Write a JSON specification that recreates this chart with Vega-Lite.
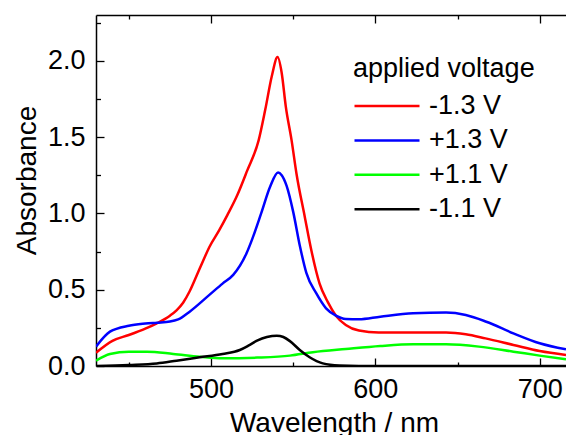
{
  "$schema": "https://vega.github.io/schema/vega-lite/v6.json",
  "width": 470,
  "height": 351,
  "autosize": {"type": "none"},
  "padding": {"left": 96, "top": 15, "right": 0, "bottom": 69},
  "config": {
    "view": {"stroke": null},
    "font": "Liberation Sans",
    "axis": {
      "grid": false,
      "domainColor": "black",
      "domainWidth": 1.5,
      "tickColor": "black",
      "tickWidth": 1.3,
      "labelFont": "Liberation Sans",
      "labelFontSize": 27,
      "labelColor": "black",
      "labelFlush": false,
      "labelOverlap": false,
      "titleFont": "Liberation Sans",
      "titleFontSize": 28,
      "titleFontWeight": "normal",
      "titleColor": "black"
    }
  },
  "data": {
    "values": [
      {"s": "-1.3 V", "w": 430, "a": 0.087},
      {"s": "-1.3 V", "w": 440, "a": 0.165},
      {"s": "-1.3 V", "w": 450, "a": 0.203},
      {"s": "-1.3 V", "w": 460, "a": 0.245},
      {"s": "-1.3 V", "w": 467, "a": 0.28},
      {"s": "-1.3 V", "w": 475, "a": 0.33},
      {"s": "-1.3 V", "w": 479, "a": 0.365},
      {"s": "-1.3 V", "w": 483, "a": 0.415},
      {"s": "-1.3 V", "w": 487, "a": 0.49},
      {"s": "-1.3 V", "w": 491, "a": 0.586},
      {"s": "-1.3 V", "w": 495, "a": 0.685},
      {"s": "-1.3 V", "w": 499, "a": 0.78},
      {"s": "-1.3 V", "w": 505, "a": 0.89},
      {"s": "-1.3 V", "w": 510, "a": 0.99},
      {"s": "-1.3 V", "w": 516, "a": 1.12},
      {"s": "-1.3 V", "w": 522, "a": 1.28},
      {"s": "-1.3 V", "w": 529, "a": 1.48},
      {"s": "-1.3 V", "w": 533, "a": 1.68},
      {"s": "-1.3 V", "w": 537, "a": 1.9},
      {"s": "-1.3 V", "w": 540.5, "a": 2.024},
      {"s": "-1.3 V", "w": 543, "a": 1.92},
      {"s": "-1.3 V", "w": 545.5, "a": 1.7},
      {"s": "-1.3 V", "w": 549, "a": 1.48},
      {"s": "-1.3 V", "w": 552, "a": 1.26},
      {"s": "-1.3 V", "w": 557, "a": 0.98},
      {"s": "-1.3 V", "w": 561, "a": 0.76},
      {"s": "-1.3 V", "w": 566, "a": 0.542},
      {"s": "-1.3 V", "w": 571, "a": 0.42},
      {"s": "-1.3 V", "w": 576, "a": 0.33},
      {"s": "-1.3 V", "w": 582, "a": 0.269},
      {"s": "-1.3 V", "w": 590, "a": 0.232},
      {"s": "-1.3 V", "w": 602, "a": 0.219},
      {"s": "-1.3 V", "w": 620, "a": 0.219},
      {"s": "-1.3 V", "w": 643, "a": 0.219},
      {"s": "-1.3 V", "w": 655, "a": 0.208},
      {"s": "-1.3 V", "w": 667, "a": 0.181},
      {"s": "-1.3 V", "w": 684, "a": 0.138},
      {"s": "-1.3 V", "w": 700, "a": 0.098},
      {"s": "-1.3 V", "w": 716, "a": 0.072},
      {"s": "+1.3 V", "w": 430, "a": 0.127},
      {"s": "+1.3 V", "w": 438.5, "a": 0.225},
      {"s": "+1.3 V", "w": 450, "a": 0.264},
      {"s": "+1.3 V", "w": 460, "a": 0.278},
      {"s": "+1.3 V", "w": 467, "a": 0.284},
      {"s": "+1.3 V", "w": 475, "a": 0.291},
      {"s": "+1.3 V", "w": 480, "a": 0.305},
      {"s": "+1.3 V", "w": 487, "a": 0.356},
      {"s": "+1.3 V", "w": 499, "a": 0.466},
      {"s": "+1.3 V", "w": 507, "a": 0.54},
      {"s": "+1.3 V", "w": 513.5, "a": 0.597},
      {"s": "+1.3 V", "w": 521.6, "a": 0.739},
      {"s": "+1.3 V", "w": 525, "a": 0.83},
      {"s": "+1.3 V", "w": 530.5, "a": 1.0},
      {"s": "+1.3 V", "w": 536, "a": 1.176},
      {"s": "+1.3 V", "w": 540.8, "a": 1.268},
      {"s": "+1.3 V", "w": 543, "a": 1.25},
      {"s": "+1.3 V", "w": 546, "a": 1.18},
      {"s": "+1.3 V", "w": 550, "a": 1.01},
      {"s": "+1.3 V", "w": 554, "a": 0.79},
      {"s": "+1.3 V", "w": 558, "a": 0.61},
      {"s": "+1.3 V", "w": 564, "a": 0.477},
      {"s": "+1.3 V", "w": 570, "a": 0.378},
      {"s": "+1.3 V", "w": 576, "a": 0.33},
      {"s": "+1.3 V", "w": 582, "a": 0.308},
      {"s": "+1.3 V", "w": 590, "a": 0.306},
      {"s": "+1.3 V", "w": 603, "a": 0.323},
      {"s": "+1.3 V", "w": 623, "a": 0.345},
      {"s": "+1.3 V", "w": 643, "a": 0.35},
      {"s": "+1.3 V", "w": 655, "a": 0.334},
      {"s": "+1.3 V", "w": 667.5, "a": 0.29},
      {"s": "+1.3 V", "w": 684, "a": 0.214},
      {"s": "+1.3 V", "w": 700, "a": 0.149},
      {"s": "+1.3 V", "w": 716, "a": 0.109},
      {"s": "+1.1 V", "w": 430, "a": 0.035},
      {"s": "+1.1 V", "w": 438.5, "a": 0.079},
      {"s": "+1.1 V", "w": 450, "a": 0.094},
      {"s": "+1.1 V", "w": 461, "a": 0.094},
      {"s": "+1.1 V", "w": 477, "a": 0.079},
      {"s": "+1.1 V", "w": 493, "a": 0.061},
      {"s": "+1.1 V", "w": 507, "a": 0.05},
      {"s": "+1.1 V", "w": 528, "a": 0.055},
      {"s": "+1.1 V", "w": 548, "a": 0.068},
      {"s": "+1.1 V", "w": 562, "a": 0.09},
      {"s": "+1.1 V", "w": 582, "a": 0.111},
      {"s": "+1.1 V", "w": 603, "a": 0.131},
      {"s": "+1.1 V", "w": 623, "a": 0.142},
      {"s": "+1.1 V", "w": 643, "a": 0.142},
      {"s": "+1.1 V", "w": 663, "a": 0.127},
      {"s": "+1.1 V", "w": 684, "a": 0.094},
      {"s": "+1.1 V", "w": 700, "a": 0.068},
      {"s": "+1.1 V", "w": 716, "a": 0.044},
      {"s": "-1.1 V", "w": 430, "a": 0.0},
      {"s": "-1.1 V", "w": 450, "a": 0.007},
      {"s": "-1.1 V", "w": 467, "a": 0.017},
      {"s": "-1.1 V", "w": 479, "a": 0.035},
      {"s": "-1.1 V", "w": 493, "a": 0.057},
      {"s": "-1.1 V", "w": 507, "a": 0.079},
      {"s": "-1.1 V", "w": 517.5, "a": 0.105},
      {"s": "-1.1 V", "w": 523, "a": 0.135},
      {"s": "-1.1 V", "w": 528, "a": 0.166},
      {"s": "-1.1 V", "w": 534, "a": 0.19},
      {"s": "-1.1 V", "w": 540, "a": 0.199},
      {"s": "-1.1 V", "w": 544, "a": 0.19},
      {"s": "-1.1 V", "w": 548, "a": 0.163},
      {"s": "-1.1 V", "w": 554, "a": 0.105},
      {"s": "-1.1 V", "w": 560, "a": 0.057},
      {"s": "-1.1 V", "w": 568, "a": 0.017},
      {"s": "-1.1 V", "w": 578, "a": 0.003},
      {"s": "-1.1 V", "w": 590, "a": 0.0},
      {"s": "-1.1 V", "w": 620, "a": 0.0},
      {"s": "-1.1 V", "w": 716, "a": 0.0}
    ]
  },
  "layer": [
    {
      "mark": {"type": "line", "strokeWidth": 2.5, "interpolate": "monotone", "clip": true},
      "encoding": {
        "x": {
          "field": "w", "type": "quantitative",
          "scale": {"domain": [430, 716], "nice": false, "zero": false},
          "axis": {
            "orient": "bottom",
            "values": [500, 600, 700],
            "format": "d",
            "tickSize": -8,
            "labelPadding": 18,
            "title": "Wavelength / nm",
            "titleBaseline": "alphabetic",
            "titleX": 238,
            "titleY": 65
          }
        },
        "y": {
          "field": "a", "type": "quantitative",
          "scale": {"domain": [0, 2.3], "nice": false},
          "axis": {
            "orient": "left",
            "values": [0, 0.5, 1, 1.5, 2],
            "format": ".1f",
            "tickSize": -8,
            "labelPadding": 19,
            "title": "Absorbance",
            "titleBaseline": "alphabetic",
            "titleX": -61,
            "titleY": 165
          }
        },
        "color": {
          "field": "s", "type": "nominal",
          "scale": {"domain": ["-1.3 V", "+1.3 V", "+1.1 V", "-1.1 V"], "range": ["#ff0000", "#0000ff", "#00ff00", "#000000"]},
          "legend": {
            "orient": "none",
            "legendX": 257,
            "legendY": 41,
            "title": "applied voltage",
            "titleFont": "Liberation Sans",
            "titleFontSize": 27,
            "titleFontWeight": "normal",
            "titleColor": "black",
            "titleLimit": 400,
            "titlePadding": 8,
            "labelFont": "Liberation Sans",
            "labelFontSize": 27,
            "labelColor": "black",
            "labelOffset": 8,
            "symbolType": "stroke",
            "symbolSize": 4225,
            "symbolStrokeWidth": 2.5,
            "clipHeight": 30,
            "rowPadding": 4.4
          }
        }
      }
    },
    {
      "mark": {"type": "line", "opacity": 0, "clip": true},
      "encoding": {
        "x": {
          "field": "w", "type": "quantitative",
          "scale": {"domain": [430, 716], "nice": false, "zero": false},
          "axis": {"orient": "bottom", "values": [450, 550, 650], "labels": false, "domain": false, "title": null, "tickSize": -4}
        },
        "y": {
          "field": "a", "type": "quantitative",
          "scale": {"domain": [0, 2.3], "nice": false},
          "axis": {"orient": "left", "values": [0.25, 0.75, 1.25, 1.75, 2.25], "labels": false, "domain": false, "title": null, "tickSize": -4.5}
        },
        "detail": {"field": "s", "type": "nominal"}
      }
    },
    {
      "mark": {"type": "line", "opacity": 0, "clip": true},
      "encoding": {
        "x": {
          "field": "w", "type": "quantitative",
          "scale": {"domain": [430, 716], "nice": false, "zero": false},
          "axis": {"orient": "top", "values": [500, 600, 700], "labels": false, "domain": true, "title": null, "tickSize": -8}
        },
        "y": {"field": "a", "type": "quantitative", "scale": {"domain": [0, 2.3], "nice": false}, "axis": null},
        "detail": {"field": "s", "type": "nominal"}
      }
    },
    {
      "mark": {"type": "line", "opacity": 0, "clip": true},
      "encoding": {
        "x": {
          "field": "w", "type": "quantitative",
          "scale": {"domain": [430, 716], "nice": false, "zero": false},
          "axis": {"orient": "top", "values": [450, 550, 650], "labels": false, "domain": false, "title": null, "tickSize": -4}
        },
        "y": {"field": "a", "type": "quantitative", "scale": {"domain": [0, 2.3], "nice": false}, "axis": null},
        "detail": {"field": "s", "type": "nominal"}
      }
    }
  ],
  "resolve": {"axis": {"x": "independent", "y": "independent"}}
}
